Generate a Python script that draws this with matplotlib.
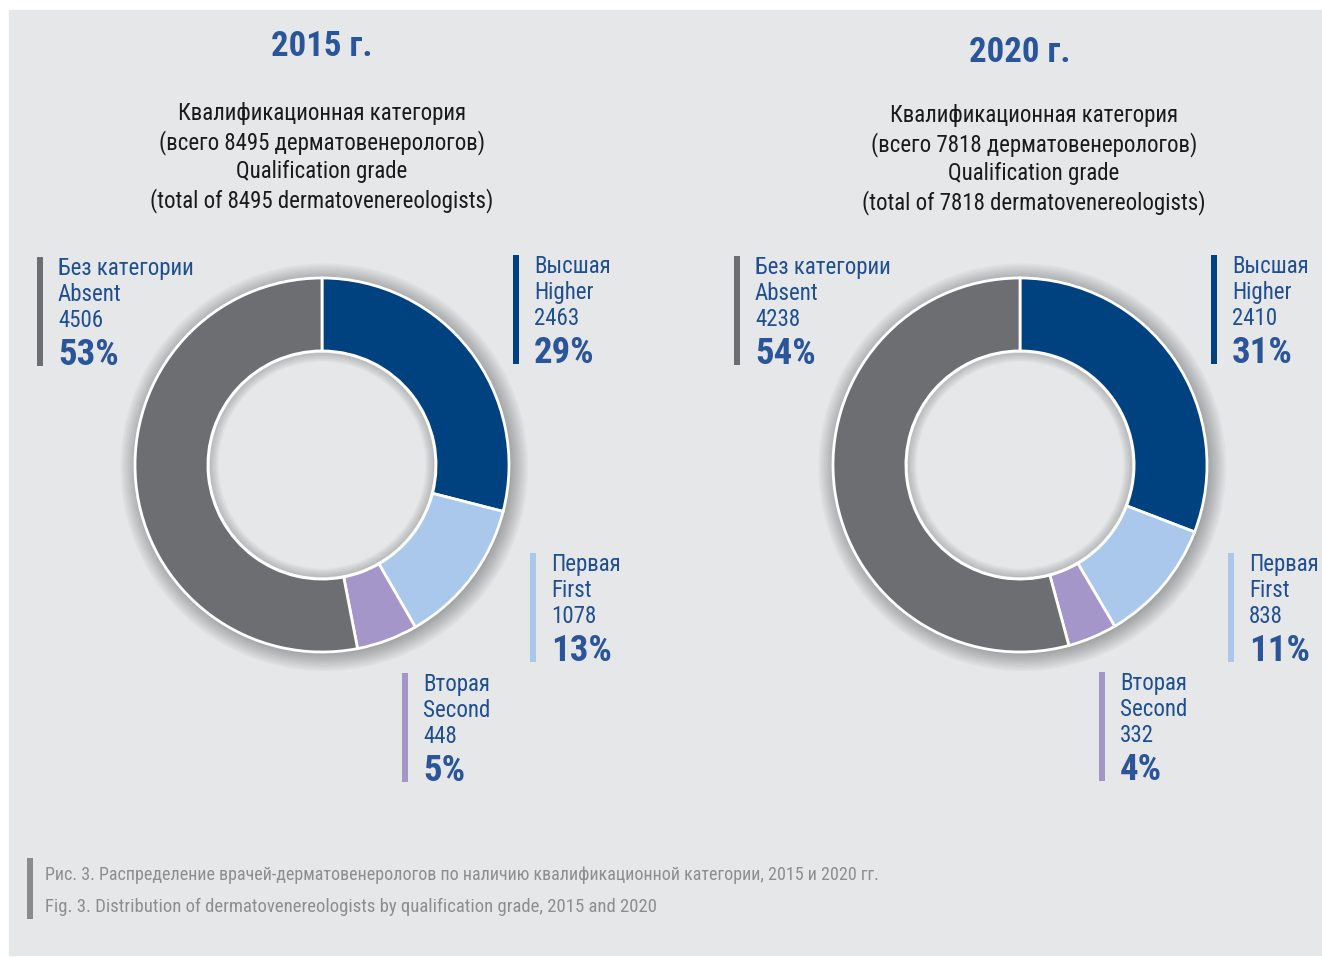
import matplotlib
matplotlib.use("Agg")
import matplotlib.pyplot as plt
from matplotlib import font_manager
from matplotlib.patches import Rectangle, Wedge

# data
years = ["2015 г.", "2020 г."]
totals = [8495, 7818]
cats_ru = ["Высшая", "Первая", "Вторая", "Без категории"]
cats_en = ["Higher", "First", "Second", "Absent"]
vals_2015 = [2463, 1078, 448, 4506]
vals_2020 = [2410, 838, 332, 4238]
pcts_2015 = [29, 13, 5, 53]
pcts_2020 = [31, 11, 4, 54]
caption_ru = "Рис. 3. Распределение врачей-дерматовенерологов по наличию квалификационной категории, 2015 и 2020 гг."
caption_en = "Fig. 3. Distribution of dermatovenereologists by qualification grade, 2015 and 2020"

colors = ["#00427f", "#a9c8eb", "#a496c8", "#6d6e71"]
blue_txt = "#1f4f91"
title_c = "#2a5599"
bg = "#e6e7e9"

# pick a condensed face if one is around
names = {f.name for f in font_manager.fontManager.ttflist}
font = "DejaVu Sans"
for cand in ["Roboto Condensed", "Liberation Sans Narrow", "DejaVu Sans Condensed"]:
    if cand in names:
        font = cand
        break
plt.rcParams["font.family"] = [font, "DejaVu Sans"]
plt.rcParams["font.stretch"] = "condensed"

W, H = 1322, 957
fig = plt.figure(figsize=(W / 100, H / 100), dpi=100)
fig.patch.set_facecolor("white")
bgax = fig.add_axes([0, 0, 1, 1])
bgax.set_xlim(0, W)
bgax.set_ylim(H, 0)
bgax.axis("off")
bgax.add_patch(Rectangle((9, 10), 1313, 945, color=bg, zorder=0))

def donut(cx, cy, r, vals):
    ax = fig.add_axes([(cx - r) / W, (H - cy - r) / H, 2 * r / W, 2 * r / H])
    ax.patch.set_alpha(0)
    # soft outer shadow
    for k in range(10):
        ax.add_patch(plt.Circle((0.012, -0.012), 1.0 + 0.01 * k, color="k",
                                alpha=0.03, lw=0, zorder=0))
    # fill the hole back to background before the ring goes on
    ax.add_patch(plt.Circle((0, 0), 0.61, color=bg, lw=0, zorder=0.5))
    ax.pie(vals, startangle=90, counterclock=False, colors=colors,
           wedgeprops=dict(width=0.39, edgecolor="white", linewidth=2))
    # inner shadow inside the hole
    for k in range(8):
        ax.add_patch(Wedge((0.0, 0.0), 0.60, 0, 360, width=0.006 * (k + 1),
                           color="k", alpha=0.025, lw=0, zorder=3))
    ax.set_xlim(-1.12, 1.12)
    ax.set_ylim(-1.12, 1.12)
    ax.axis("off")
    return ax

def block(x, top, col, ru, en, n, p):
    bgax.add_patch(Rectangle((x, top), 6, 109, color=col, lw=0))
    tx = x + 21
    bgax.text(tx, top + 18, ru, color=blue_txt, fontsize=16.5)
    bgax.text(tx, top + 44, en, color=blue_txt, fontsize=16.5)
    bgax.text(tx, top + 70, str(n), color=blue_txt, fontsize=16.5)
    bgax.text(tx, top + 108, f"{p}%", color=title_c, fontsize=26.5, fontweight="bold")

panels = [
    dict(cx=322, scx=322, ty=56, sub=120, vals=vals_2015, pcts=pcts_2015, tot=totals[0],
         spots=[(513, 255), (530, 553), (402, 673), (37, 257)]),
    dict(cx=1020, scx=1034, ty=62, sub=122, vals=vals_2020, pcts=pcts_2020, tot=totals[1],
         spots=[(1211, 255), (1228, 553), (1099, 672), (734, 256)]),
]

for yr, pn in zip(years, panels):
    cx = pn["cx"]
    bgax.text(cx, pn["ty"], yr, ha="center", color=title_c, fontsize=25,
              fontweight="bold")
    subs = ["Квалификационная категория",
            f"(всего {pn['tot']} дерматовенерологов)",
            "Qualification grade",
            f"(total of {pn['tot']} dermatovenereologists)"]
    for i, s in enumerate(subs):
        bgax.text(pn["scx"], pn["sub"] + 29 * i, s, ha="center", color="#1a1a1a",
                  fontsize=16.5)
    # donut radius 187 (outer), axes a bit larger for edge line
    donut(cx, 465, 187 * 1.12, pn["vals"])
    for i, (x, top) in enumerate(pn["spots"]):
        block(x, top, colors[i], cats_ru[i], cats_en[i], pn["vals"][i], pn["pcts"][i])

bgax.add_patch(Rectangle((27, 858), 6, 61, color="#8a8b8d", lw=0))
bgax.text(45, 880, caption_ru, color="#8d8e90", fontsize=13)
bgax.text(45, 912, caption_en, color="#8d8e90", fontsize=13.5)

fig.savefig("out.png", dpi=100, facecolor="white")
